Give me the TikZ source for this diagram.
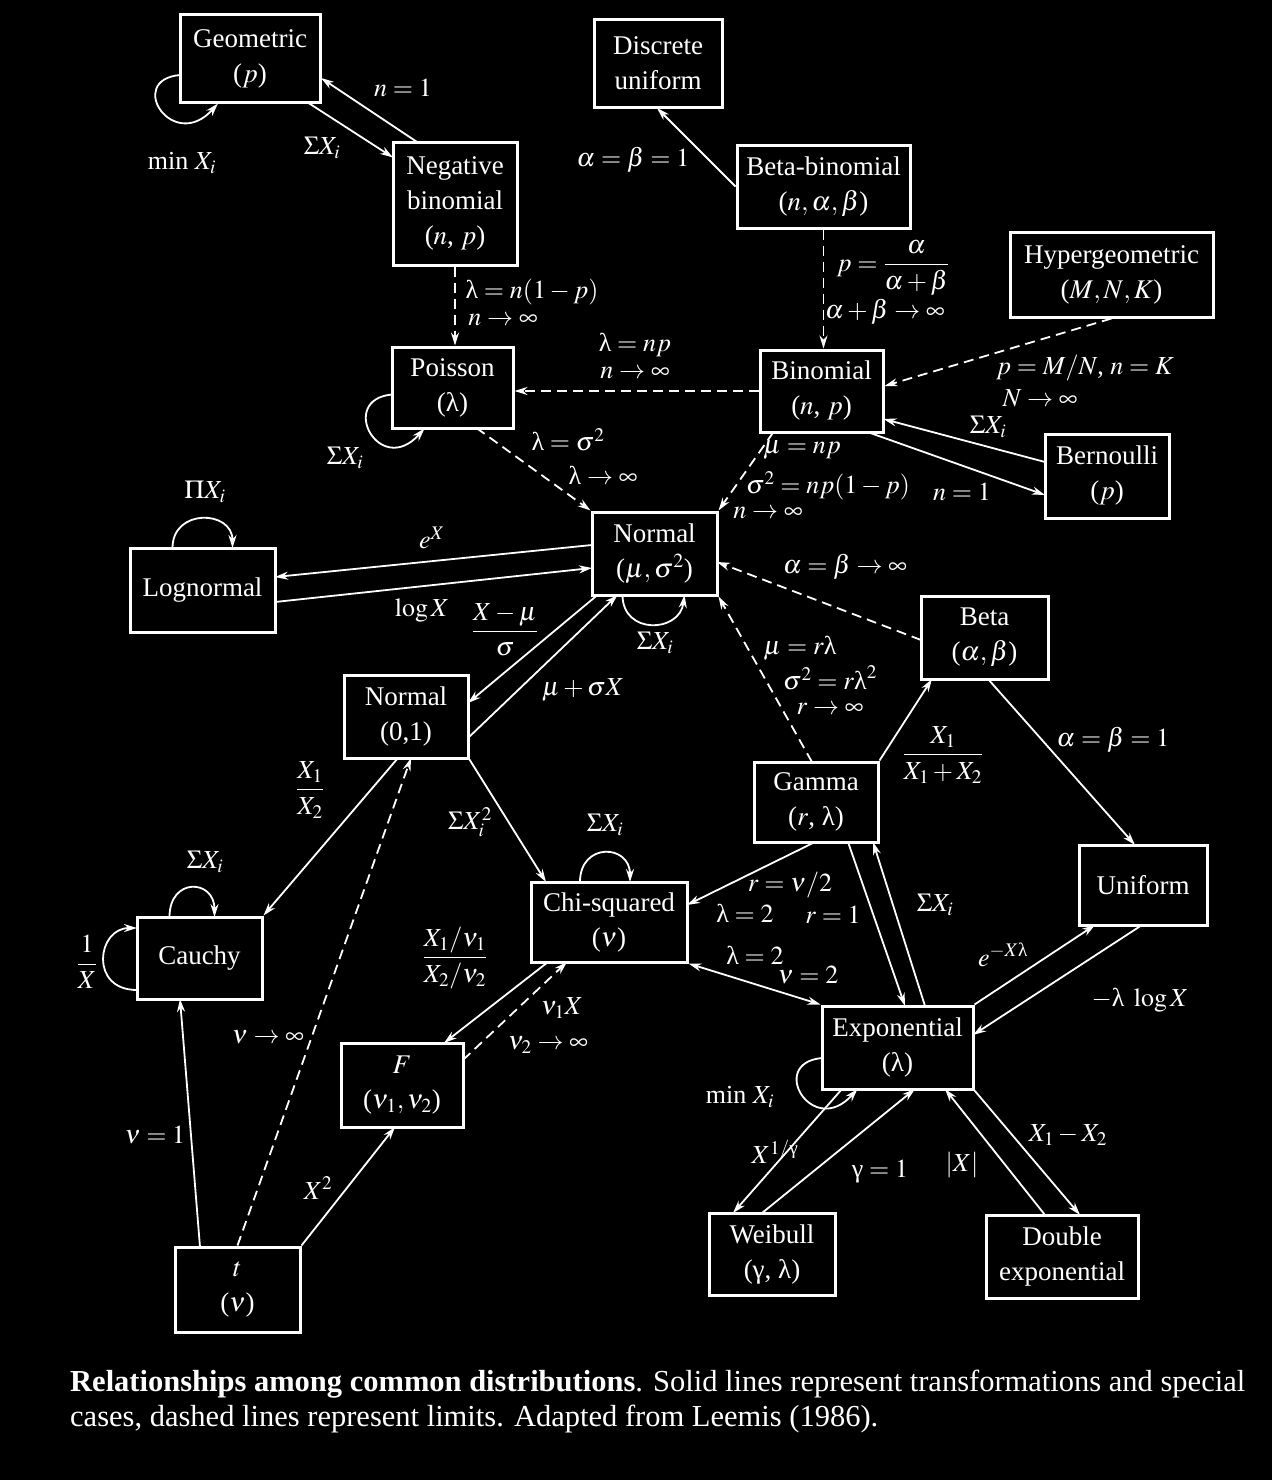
\documentclass[tikz,border=0pt]{standalone}
\usepackage{amsmath}
\usepackage{mathptmx}
\usepackage[no-math]{fontspec}
\setmainfont{Liberation Serif}
\usetikzlibrary{calc,arrows.meta}
\newcommand\boxfont{\fontsize{27}{35}\selectfont}
\newcommand\labfont{\fontsize{26}{32}\selectfont}
\newcommand\capfont{\fontsize{30.5}{35}\selectfont}
\newcommand\ulam{\text{λ}}
\newcommand\ugam{\text{γ}}
\tikzset{
  box/.style={draw=white, line width=3pt, fill=black, text=white, align=center, font=\boxfont, inner sep=0pt},
  lab/.style={text=white, font=\labfont, inner sep=1pt},
  conn/.style={draw=white, line width=1.8pt, -{Stealth[length=13pt,width=8pt]}},
  conntwo/.style={draw=white, line width=1.8pt, {Stealth[length=13pt,width=8pt]}-{Stealth[length=13pt,width=8pt]}},
  lim/.style={conn, dash pattern=on 10pt off 6pt},
}
\begin{document}
\begin{tikzpicture}[x=1pt,y=-1pt]
\fill[black] (0,0) rectangle (1272,1480);
\useasboundingbox (0,0) rectangle (1272,1480);
% nodes
\node[box, minimum width=140pt, minimum height=87pt] (geo) at (250,58.5) {Geometric\\($p$)};
\node[box, minimum width=128pt, minimum height=87pt] (du) at (658,63.5) {Discrete\\uniform};
\node[box, minimum width=124pt, minimum height=123pt] (nb) at (455,203.5) {Negative\\binomial\\($n$, $p$)};
\node[box, minimum width=173pt, minimum height=83pt] (bb) at (823.5,186.5) {Beta-binomial\\($n, \alpha, \beta$)};
\node[box, minimum width=203pt, minimum height=85pt] (hyp) at (1111.5,274.5) {Hypergeometric\\($M, N, K$)};
\node[box, minimum width=121pt, minimum height=81pt] (poi) at (452.5,387.5) {Poisson\\(λ)};
\node[box, minimum width=123pt, minimum height=82pt] (bin) at (821.5,391) {Binomial\\($n$, $p$)};
\node[box, minimum width=124pt, minimum height=84pt] (ber) at (1107,476) {Bernoulli\\($p$)};
\node[box, minimum width=145pt, minimum height=84pt] (logn) at (202.5,590) {Lognormal};
\node[box, minimum width=125pt, minimum height=83pt] (nor) at (654.5,553.5) {Normal\\($\mu, \sigma^2$)};
\node[box, minimum width=127pt, minimum height=83pt] (beta) at (984.5,637.5) {Beta\\($\alpha, \beta$)};
\node[box, minimum width=124pt, minimum height=83pt] (n01) at (406,716.5) {Normal\\(0,1)};
\node[box, minimum width=124pt, minimum height=80pt] (gam) at (816,802) {Gamma\\($r$, λ)};
\node[box, minimum width=128pt, minimum height=80pt] (uni) at (1143,885) {Uniform};
\node[box, minimum width=125pt, minimum height=82pt] (cau) at (199.5,958) {Cauchy};
\node[box, minimum width=156pt, minimum height=80pt] (chi) at (609,922) {Chi-squared\\($\nu$)};
\node[box, minimum width=151pt, minimum height=83pt] (exp) at (897.5,1047.5) {Exponential\\(λ)};
\node[box, minimum width=122pt, minimum height=84pt] (F) at (402,1085) {$F$\\($\nu_1, \nu_2$)};
\node[box, minimum width=125pt, minimum height=85pt] (t) at (237.5,1289.5) {$t$\\($\nu$)};
\node[box, minimum width=126pt, minimum height=82pt] (wei) at (772,1254) {Weibull\\(γ, λ)};
\node[box, minimum width=152pt, minimum height=83pt] (de) at (1062,1256.5) {Double\\exponential};
% connectors
\draw[conn] ($(geo)+(57,43.5)$) -- ($(nb)+(-62,-46)$);
\draw[conn] ($(nb)+(-38,-61.5)$) -- ($(geo)+(71,19.5)$);
\draw[conn] ($(geo)+(-70,16.5)$) .. controls +(-55,5) and +(-45,50) .. ($(geo)+(-32,45)$);
\draw[conn] (bb.west) -- ($(du)+(-1,44.5)$);
\draw[lim] (bb.south) -- (bb.south |- bin.north);
\draw[lim] (nb.south) -- (nb.south |- poi.north);
\draw[lim] (bin.west) -- (bin.west -| poi.east);
\draw[lim] (hyp.south) -- ($(bin)+(63,-5)$);
\draw[conn] ($(ber)+(-62,-14)$) -- ($(bin)+(62,28)$);
\draw[conn] ($(bin)+(46,41)$) -- ($(ber)+(-62,19)$);
\draw[conn] ($(poi)+(-60.5,7)$) .. controls +(-55,5) and +(-45,50) .. ($(poi)+(-28,41)$);
\draw[lim] ($(poi)+(24,40.5)$) -- (nor.north west);
\draw[lim] ($(bin)+(-48,41)$) -- (nor.north east);
\draw[conn] ($(nor)+(-62.5,-8.5)$) -- ($(logn)+(72.5,-13)$);
\draw[conn] ($(logn)+(72.5,12)$) -- ($(nor)+(-62.5,14.5)$);
\draw[conn] ($(logn)+(-30,-42)$) .. controls +(0,-40) and +(0,-38) .. ($(logn)+(30,-42)$);
\draw[conn] ($(nor)+(-32,41.5)$) .. controls +(0,40) and +(-5,38) .. ($(nor)+(30,41.5)$);
\draw[conn] ($(nor)+(-57,41.5)$) -- ($(n01)+(62,-13.5)$);
\draw[conn] ($(n01)+(62,21.5)$) -- ($(nor)+(-37,41.5)$);
\draw[lim] ($(beta)+(-63.5,2.5)$) -- ($(nor)+(62.5,8.5)$);
\draw[lim] ($(gam)+(-4,-40)$) -- (nor.south east);
\draw[conn] (gam.north east) -- ($(beta)+(-52.5,41.5)$);
\draw[conn] ($(beta)+(3.5,41.5)$) -- ($(uni)+(-8,-40)$);
\draw[conn] ($(n01)+(-8,41.5)$) -- (cau.north east);
\draw[conn] (n01.south east) -- ($(chi)+(-63,-40)$);
\draw[conn] ($(cau)+(-30,-41)$) .. controls +(0,-40) and +(0,-38) .. ($(cau)+(15,-41)$);
\draw[conn] ($(cau)+(-62.5,32)$) .. controls +(-48,0) and +(-40,0) .. ($(cau)+(-62.5,-30)$);
\draw[conn] ($(chi)+(-29,-40)$) .. controls +(0,-40) and +(0,-38) .. ($(chi)+(21,-40)$);
\draw[conn] ($(gam)+(-1,40)$) -- ($(chi)+(78,-17)$);
\draw[conn] ($(gam)+(32,40)$) -- ($(exp)+(7.5,-41.5)$);
\draw[conn] ($(exp)+(27.5,-41.5)$) -- ($(gam)+(57,40)$);
\draw[conntwo] (chi.south east) -- (exp.north west);
\draw[conn] (exp.north east) -- ($(uni)+(-48,40)$);
\draw[conn] ($(uni)+(-1,40)$) -- ($(exp)+(75.5,-12.5)$);
\draw[conn] ($(chi)+(-61,40)$) -- ($(F)+(42,-42)$);
\draw[lim] ($(F)+(61,-25)$) -- ($(chi)+(-42,40)$);
\draw[conn] ($(t)+(-37.5,-42.5)$) -- ($(cau)+(-19.5,41)$);
\draw[lim] (t.north) -- ($(n01)+(5,41.5)$);
\draw[conn] (t.north east) -- ($(F)+(-7,42)$);
\draw[conn] ($(exp)+(-75.5,10.5)$) .. controls +(-55,5) and +(-45,50) .. ($(exp)+(-40,41.5)$);
\draw[conn] ($(exp)+(-55.5,41.5)$) -- ($(wei)+(-39,-41)$);
\draw[conn] ($(wei)+(-10,-41)$) -- ($(exp)+(17.5,41.5)$);
\draw[conn] ($(de)+(-17,-41.5)$) -- ($(exp)+(47.5,41.5)$);
\draw[conn] (exp.south east) -- ($(de)+(18,-41.5)$);
% labels
\node[lab] (l01) at (182,163) {min $X_i$};
\node[lab] (l02) at (322,148) {$\Sigma X_i$};
\node[lab] (l03) at (403,88) {$n = 1$};
\node[lab] (l04) at (633,160) {$\alpha = \beta = 1$};
\node[lab] (l05) at (893,268) {$p = \dfrac{\alpha}{\alpha+\beta}$};
\node[lab] (l06) at (885,312) {$\alpha + \beta \to \infty$};
\node[lab] (l07) at (532,292) {$\ulam = n(1-p)$};
\node[lab] (l08) at (503,320) {$n \to \infty$};
\node[lab] (l09) at (635,345) {$\ulam = np$};
\node[lab] (l10) at (635,373) {$n \to \infty$};
\node[lab] (l11) at (1085,368) {$p = M/N$, $n = K$};
\node[lab] (l12) at (1040,398) {$N \to \infty$};
\node[lab] (l13) at (988,427) {$\Sigma X_i$};
\node[lab] (l14) at (962,492) {$n = 1$};
\node[lab] (l15) at (345,458) {$\Sigma X_i$};
\node[lab] (l16) at (205,492) {$\Pi X_i$};
\node[lab] (l17) at (568,440) {$\ulam = \sigma^2$};
\node[lab] (l18) at (603,475) {$\ulam \to \infty$};
\node[lab] (l19) at (802,450) {$\mu = np$};
\node[lab] (l20) at (828,486) {$\sigma^2 = np(1-p)$};
\node[lab] (l21) at (768,513) {$n \to \infty$};
\node[lab] (l22) at (432,538) {$e^X$};
\node[lab] (l23) at (422,610) {$\log X$};
\node[lab] (l24) at (505,630) {$\dfrac{X-\mu}{\sigma}$};
\node[lab] (l25) at (655,643) {$\Sigma X_i$};
\node[lab] (l26) at (583,690) {$\mu + \sigma X$};
\node[lab] (l27) at (845,567) {$\alpha = \beta \to \infty$};
\node[lab] (l28) at (800,648) {$\mu = r\ulam$};
\node[lab] (l29) at (830,678) {$\sigma^2 = r\ulam^2$};
\node[lab] (l30) at (830,709) {$r \to \infty$};
\node[lab] (l31) at (943,755) {$\dfrac{X_1}{X_1 + X_2}$};
\node[lab] (l32) at (1113,740) {$\alpha = \beta = 1$};
\node[lab] (l33) at (310,790) {$\dfrac{X_1}{X_2}$};
\node[lab] (l34) at (470,822) {$\Sigma X_i^2$};
\node[lab] (l35) at (605,825) {$\Sigma X_i$};
\node[lab] (l36) at (205,862) {$\Sigma X_i$};
\node[lab] (l37) at (87,962) {$\dfrac{1}{X}$};
\node[lab] (l38) at (455,958) {$\dfrac{X_1/\nu_1}{X_2/\nu_2}$};
\node[lab] (l39) at (790,885) {$r = \nu/2$};
\node[lab] (l40) at (745,913) {$\ulam = 2$};
\node[lab] (l41) at (833,915) {$r = 1$};
\node[lab] (l42) at (935,905) {$\Sigma X_i$};
\node[lab] (l43) at (1003,955) {$e^{-X\ulam}$};
\node[lab] (l44) at (755,955) {$\ulam = 2$};
\node[lab] (l45) at (808,975) {$\nu = 2$};
\node[lab] (l46) at (1140,1000) {$-\ulam\ \log X$};
\node[lab] (l47) at (268,1037) {$\nu \to \infty$};
\node[lab] (l48) at (562,1008) {$\nu_1 X$};
\node[lab] (l49) at (548,1045) {$\nu_2 \to \infty$};
\node[lab] (l50) at (155,1135) {$\nu = 1$};
\node[lab] (l51) at (318,1188) {$X^2$};
\node[lab] (l52) at (740,1097) {min $X_i$};
\node[lab] (l53) at (775,1152) {$X^{1/\ugam}$};
\node[lab] (l54) at (880,1172) {$\ugam = 1$};
\node[lab] (l55) at (962,1165) {$|X|$};
\node[lab] (l56) at (1068,1135) {$X_1 - X_2$};
% caption
\node[anchor=north west, align=left, text=white, font=\capfont, inner sep=0pt] (cap) at (70,1370)
  {\textbf{Relationships among common distributions}. Solid lines represent transformations and special\\
   cases, dashed lines represent limits. Adapted from Leemis (1986).};
\end{tikzpicture}
\end{document}
